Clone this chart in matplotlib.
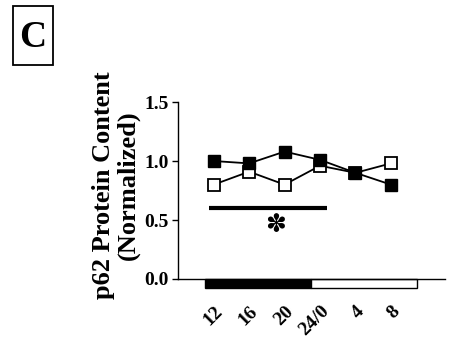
import matplotlib
matplotlib.use("Agg")
import matplotlib.pyplot as plt
from matplotlib.patches import Rectangle

# time points (hours) and tick labels
hours = [12, 16, 20, 24, 28, 32]
tick_labels = ["12", "16", "20", "24/0", "4", "8"]

# p62 protein content (normalized)
filled_vals = [1.00, 0.98, 1.08, 1.01, 0.90, 0.80]
open_vals = [0.80, 0.91, 0.80, 0.96, 0.90, 0.98]

# light/dark bar and significance line
dark_span = (11, 23)
light_span = (23, 35)
sig_span = (11.5, 24.8)
sig_y = 0.60

plt.rcParams["font.family"] = ["Liberation Serif", "DejaVu Serif"]
plt.rcParams["font.weight"] = "bold"

fig = plt.figure(figsize=(4.49, 3.39), dpi=100)
ax = fig.add_axes([0.397, 0.177, 0.594, 0.522])

ax.plot(hours, open_vals, color="black", lw=1.3, marker="s", ms=8,
        mfc="white", mec="black", mew=1.3, zorder=3)
ax.plot(hours, filled_vals, color="black", lw=1.3, marker="s", ms=8.5,
        mfc="black", mec="black", zorder=4)

# significance bar + asterisk
ax.plot(sig_span, [sig_y, sig_y], color="black", lw=3, solid_capstyle="butt")
ax.text(19.0, 0.46, "\u273d", ha="center", va="center", fontsize=18,
        family="DejaVu Sans", color="black")

# light/dark bar under the x axis
bh = 0.076
ax.add_patch(Rectangle((dark_span[0], -bh), dark_span[1] - dark_span[0], bh,
                       facecolor="black", edgecolor="black", lw=1, clip_on=False))
ax.add_patch(Rectangle((light_span[0], -bh), light_span[1] - light_span[0], bh,
                       facecolor="white", edgecolor="black", lw=1, clip_on=False))

ax.set_xlim(8, 38.1)
ax.set_ylim(0, 1.5)
ax.set_yticks([0.0, 0.5, 1.0, 1.5])
ax.set_yticklabels(["0.0", "0.5", "1.0", "1.5"])
ax.set_xticks(hours)
ax.set_xticklabels(tick_labels, rotation=45, ha="right", rotation_mode="anchor")
ax.tick_params(axis="x", length=0, pad=17, labelsize=14)
ax.tick_params(axis="y", length=4, width=1, pad=3, labelsize=14)
for lab in ax.get_xticklabels() + ax.get_yticklabels():
    lab.set_fontweight("bold")

ax.spines["top"].set_visible(False)
ax.spines["right"].set_visible(False)
ax.spines["left"].set_linewidth(1)
ax.spines["bottom"].set_linewidth(1)

ax.set_ylabel("p62 Protein Content\n(Normalized)", fontsize=19,
              fontweight="bold", linespacing=1.05)
ax.yaxis.set_label_coords(-0.145, 0.53)

# panel label
fig.add_artist(Rectangle((0.029, 0.808), 0.089, 0.174, transform=fig.transFigure,
                         facecolor="white", edgecolor="black", lw=1.3))
fig.text(0.0735, 0.889, "C", fontsize=27, fontweight="bold", ha="center",
         va="center")

fig.savefig("out.png", dpi=100)
